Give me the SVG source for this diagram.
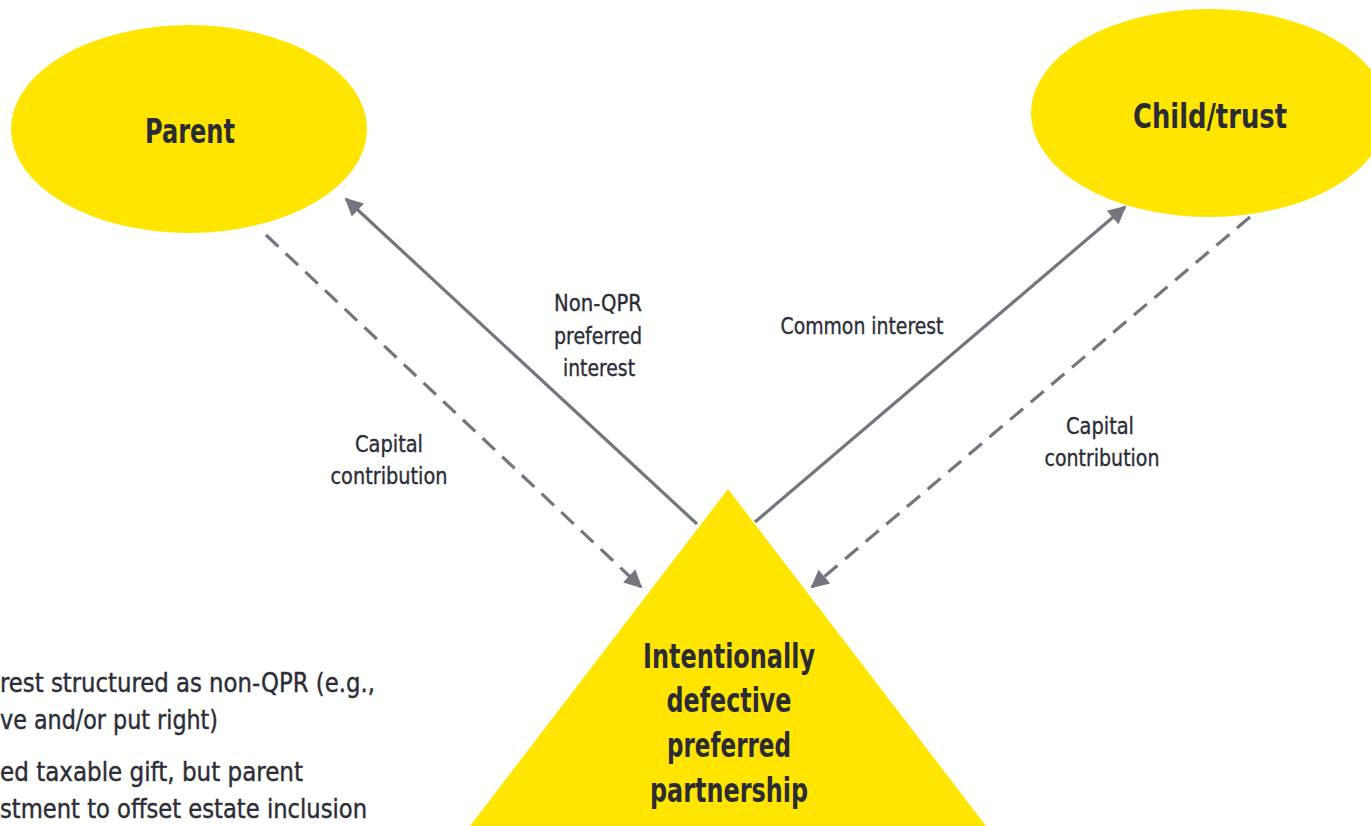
<svg xmlns="http://www.w3.org/2000/svg" width="1371" height="826" viewBox="0 0 1371 826">
  <style>
    .node { fill: #ffe500; }
    .title { font-family: "Liberation Sans Narrow", "DejaVu Sans Condensed", sans-serif; font-weight: bold; font-size: 34px; fill: #2b2b33; text-anchor: middle; }
    .lbl { font-family: "Liberation Sans Narrow", "DejaVu Sans Condensed", sans-serif; font-size: 23px; fill: #2d2d38; stroke: #2d2d38; stroke-width: 0.35; text-anchor: middle; }
    .note { font-family: "Liberation Sans Narrow", "DejaVu Sans Condensed", sans-serif; font-size: 26px; fill: #2d2d38; stroke: #2d2d38; stroke-width: 0.4; }
    .link { stroke: #76757f; stroke-width: 3.2; fill: none; }
    .dash { stroke-dasharray: 17 10; }
  </style>
  <defs>
    <marker id="head" viewBox="0 0 10 10" refX="9" refY="5" markerWidth="20" markerHeight="18" markerUnits="userSpaceOnUse" orient="auto">
      <path d="M0,0 L10,5 L0,10 Z" fill="#76757f"/>
    </marker>
  </defs>

  <g id="parent">
    <ellipse class="node" cx="189" cy="129" rx="178" ry="104"/>
    <text class="title" x="190" y="143" textLength="90" lengthAdjust="spacingAndGlyphs">Parent</text>
  </g>

  <g id="child-trust">
    <ellipse class="node" cx="1209" cy="113" rx="178" ry="104"/>
    <text class="title" x="1210" y="128" textLength="154" lengthAdjust="spacingAndGlyphs">Child/trust</text>
  </g>

  <g id="partnership">
    <polygon class="node" points="728,489 212,1163 1244,1163"/>
    <text class="title" x="729" y="668" textLength="172" lengthAdjust="spacingAndGlyphs">Intentionally</text>
    <text class="title" x="729" y="712" textLength="125" lengthAdjust="spacingAndGlyphs">defective</text>
    <text class="title" x="729" y="757" textLength="124" lengthAdjust="spacingAndGlyphs">preferred</text>
    <text class="title" x="729" y="802" textLength="158" lengthAdjust="spacingAndGlyphs">partnership</text>
  </g>

  <g id="connectors">
    <line class="link" x1="697" y1="524" x2="346" y2="199" marker-end="url(#head)"/>
    <line class="link" x1="755" y1="522" x2="1125" y2="207" marker-end="url(#head)"/>
    <line class="link dash" x1="266" y1="235" x2="641" y2="587" marker-end="url(#head)"/>
    <line class="link dash" x1="1250" y1="217" x2="812" y2="587" marker-end="url(#head)"/>

    <text class="lbl" x="598" y="311" textLength="88" lengthAdjust="spacingAndGlyphs">Non-QPR</text>
    <text class="lbl" x="598" y="344" textLength="88" lengthAdjust="spacingAndGlyphs">preferred</text>
    <text class="lbl" x="599" y="376" textLength="72" lengthAdjust="spacingAndGlyphs">interest</text>

    <text class="lbl" x="862" y="334" textLength="163" lengthAdjust="spacingAndGlyphs">Common interest</text>

    <text class="lbl" x="389" y="452" textLength="68" lengthAdjust="spacingAndGlyphs">Capital</text>
    <text class="lbl" x="389" y="484" textLength="117" lengthAdjust="spacingAndGlyphs">contribution</text>

    <text class="lbl" x="1100" y="434" textLength="68" lengthAdjust="spacingAndGlyphs">Capital</text>
    <text class="lbl" x="1102" y="466" textLength="115" lengthAdjust="spacingAndGlyphs">contribution</text>
  </g>

  <g id="notes">
    <text class="note" x="0" y="692" textLength="375" lengthAdjust="spacingAndGlyphs">rest structured as non-QPR (e.g.,</text>
    <text class="note" x="0" y="729" textLength="218" lengthAdjust="spacingAndGlyphs">ve and/or put right)</text>
    <text class="note" x="0" y="781" textLength="303" lengthAdjust="spacingAndGlyphs">ed taxable gift, but parent</text>
    <text class="note" x="0" y="818" textLength="367" lengthAdjust="spacingAndGlyphs">stment to offset estate inclusion</text>
  </g>
</svg>
